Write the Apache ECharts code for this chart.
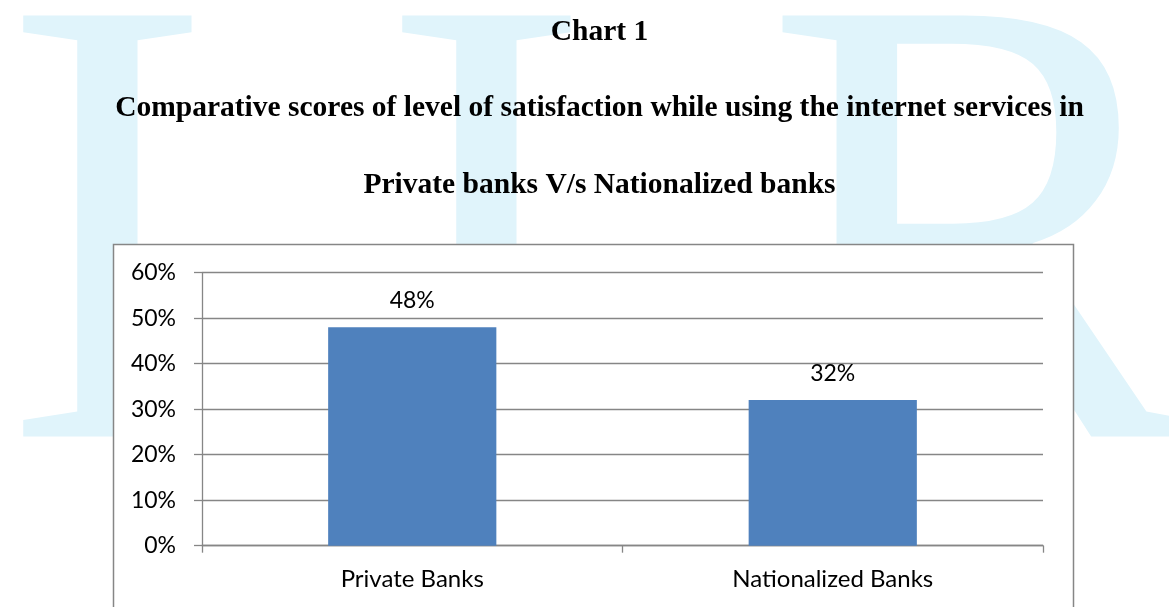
<!DOCTYPE html>
<html>
<head>
<meta charset="utf-8">
<script src="https://cdn.jsdelivr.net/npm/echarts@6/dist/echarts.min.js"></script>
<style>
html,body{margin:0;padding:0;background:#fff;}
#main{width:1169px;height:607px;}
</style>
</head>
<body>
<div id="main"></div>
<script>
var categories = ['Private Banks', 'Nationalized Banks'];
var values = [0.48, 0.32];
var yTicks = [0, 0.1, 0.2, 0.3, 0.4, 0.5, 0.6];
var titleLines = ['Chart 1',
  'Comparative scores of level of satisfaction while using the internet services in',
  'Private banks V/s Nationalized banks'];
var watermarkLetters = ['I', 'I', 'R'];

var chart = echarts.init(document.getElementById('main'), null, {renderer: 'canvas'});
var wmX = [0, 379, 764];
var wmEls = watermarkLetters.map(function (ch, i) {
  return {
    type: 'text', z: -20, left: wmX[i], top: 220 - 643 * 0.6 + 112, silent: true,
    style: { text: ch, fill: '#e0f4fb', font: 'normal 643px "Liberation Serif"' }
  };
});
var titleTops = [12, 88, 165];
var option = {
  animation: false,
  backgroundColor: '#ffffff',
  title: titleLines.map(function (s, i) {
    return {text: s, left: 594.5, textAlign: 'center', top: titleTops[i],
      textStyle: {fontFamily: 'Liberation Serif', fontWeight: 'bold', fontSize: 29.5, color: '#000'}};
  }),
  graphic: {
    elements: wmEls.concat([{
      type: 'rect', z: -10, silent: true,
      shape: {x: 113.5, y: 244.5, width: 960, height: 400},
      style: {fill: '#ffffff', stroke: '#868686', lineWidth: 1.5}
    }])
  },
  grid: {left: 202, right: 126, top: 272.7, bottom: 61.3, containLabel: false},
  xAxis: {
    type: 'category', data: categories,
    axisLine: {lineStyle: {color: '#868686', width: 1.3}},
    axisTick: {show: true, length: 7, lineStyle: {color: '#868686', width: 1.3}},
    axisLabel: {fontFamily: 'Lato', fontSize: 24, color: '#000', margin: 22}
  },
  yAxis: {
    type: 'value', min: yTicks[0], max: yTicks[yTicks.length - 1], interval: 0.1,
    axisLine: {show: true, lineStyle: {color: '#868686', width: 1.3}},
    axisTick: {show: true, length: 8, lineStyle: {color: '#868686', width: 1.3}},
    splitLine: {lineStyle: {color: '#868686', width: 1.3}},
    axisLabel: {fontFamily: 'Lato', fontSize: 23, color: '#000', margin: 26,
      formatter: function (v) { return Math.round(v * 100) + '%'; }}
  },
  series: [{
    type: 'bar', data: values, barWidth: '40%',
    itemStyle: {color: '#4f81bd'},
    label: {show: true, position: 'top', distance: 15, fontFamily: 'Lato', fontSize: 23, color: '#000',
      formatter: function (p) { return Math.round(p.value * 100) + '%'; }}
  }]
};
chart.setOption(option);
</script>
</body>
</html>
